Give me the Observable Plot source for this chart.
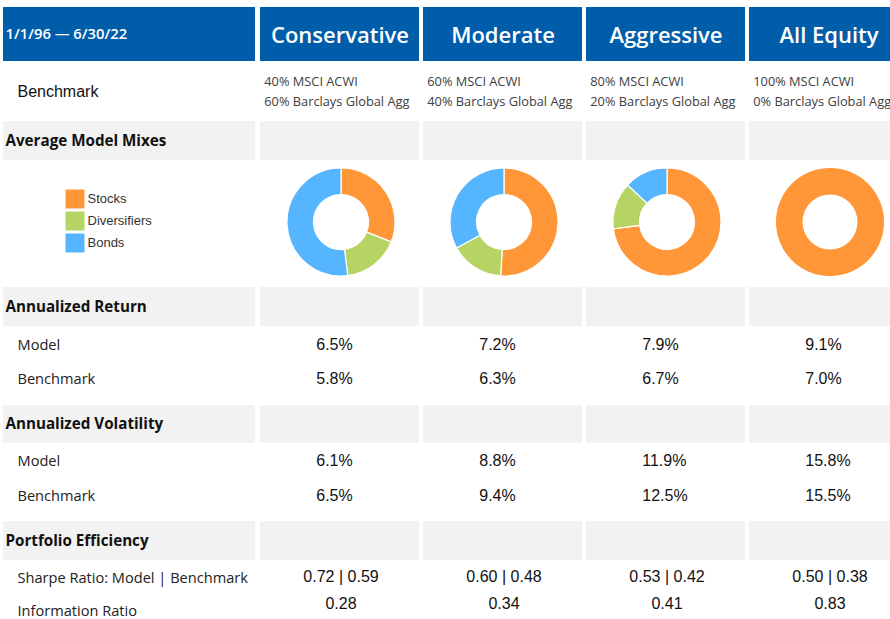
<!DOCTYPE html>
<html><head><meta charset="utf-8">
<script src="https://cdn.jsdelivr.net/npm/d3@7"></script>
<script src="https://cdn.jsdelivr.net/npm/@observablehq/plot@0.6"></script>
<style>body{margin:0;background:#fff;} #chart{width:890px;height:619px;overflow:hidden;}</style>
</head><body><div id="chart"></div>
<script>
// ---------- DATA ----------
const periodLabel = "1/1/96 \u2014 6/30/22";
const models = ["Conservative", "Moderate", "Aggressive", "All Equity"];
const benchmarkEquity = ["40% MSCI ACWI", "60% MSCI ACWI", "80% MSCI ACWI", "100% MSCI ACWI"];
const benchmarkBonds = ["60% Barclays Global Agg", "40% Barclays Global Agg", "20% Barclays Global Agg", "0% Barclays Global Agg"];
const sectionTitles = ["Average Model Mixes", "Annualized Return", "Annualized Volatility", "Portfolio Efficiency"];
const assetClasses = ["Stocks", "Diversifiers", "Bonds"];
const stocksMix = [31, 51, 73, 100];
const diversifiersMix = [17, 16, 14, 0];
const bondsMix = [52, 33, 13, 0];
const returnModel = [6.5, 7.2, 7.9, 9.1];
const returnBenchmark = [5.8, 6.3, 6.7, 7.0];
const volatilityModel = [6.1, 8.8, 11.9, 15.8];
const volatilityBenchmark = [6.5, 9.4, 12.5, 15.5];
const sharpeModel = [0.72, 0.60, 0.53, 0.50];
const sharpeBenchmark = [0.59, 0.48, 0.42, 0.38];
const informationRatio = [0.28, 0.34, 0.41, 0.83];

// ---------- LAYOUT & STYLE ----------
const L = {
  width: 890, height: 619,
  labelColInsetLeft: 3, labelColRight: 255,
  modelColsRange: [259, 909], colPadding: 0.0245,
  header: [7, 61], headerTextY: 34,
  benchLabelY: 91, benchLine1Y: 81, benchLine2Y: 101, benchDx: 4,
  sectionBands: [[121, 160], [287, 326], [405, 443], [521, 560]],
  donutY: 222, donutInner: 27.5, donutOuter: 54,
  legendY: [198.5, 220.5, 242.5], legendSquareX: 74.5, legendTextX: 87,
  sectionX: 5, rowLabelX: 17, pctLeft: 56
};
const colors = {Stocks: "#FF9637", Diversifiers: "#B5D463", Bonds: "#55B5FF"};
const headerBlue = "#005DAA", gray = "#F2F2F2";
const segoe = "'Open Sans', 'Noto Sans', sans-serif";
const arial = "'Liberation Sans', Arial, sans-serif";

// ---------- DERIVED TABLES ----------
const mixes = [stocksMix, diversifiersMix, bondsMix];
const sections = sectionTitles.map((t, i) => ({title: t, y1: L.sectionBands[i][0], y2: L.sectionBands[i][1]}));
const sectionCells = sections.flatMap(s => models.map(m => ({...s, model: m})));
const pct = v => v.toFixed(1) + "%";
const valueRows = [
  {label: "Model", vals: returnModel.map(pct), y: 344, ly: 344.5, align: "pct"},
  {label: "Benchmark", vals: returnBenchmark.map(pct), y: 378, ly: 378.5, align: "pct"},
  {label: "Model", vals: volatilityModel.map(pct), y: 460, ly: 461, align: "pct"},
  {label: "Benchmark", vals: volatilityBenchmark.map(pct), y: 495, ly: 496, align: "pct"},
  {label: "Sharpe Ratio: Model | Benchmark", vals: sharpeModel.map((v, i) => v.toFixed(2) + " | " + sharpeBenchmark[i].toFixed(2)), y: 576.5, ly: 577.5, align: "center"},
  {label: "Information Ratio", vals: informationRatio.map(v => v.toFixed(2)), y: 603, ly: 610.5, align: "center"}
];
const valueCells = valueRows.flatMap(r => models.map((m, i) => ({model: m, text: r.vals[i], y: r.y, align: r.align})));
const step = (L.modelColsRange[1] - L.modelColsRange[0]) / (models.length - L.colPadding);
const bw = step * (1 - L.colPadding);

function donuts(index, scales) {
  const g = d3.create("svg:g");
  const band = typeof scales.x.bandwidth === "function" ? scales.x.bandwidth() : (scales.x.bandwidth ?? bw);
  const pie = d3.pie().sort(null).value(d => d.value);
  const arc = d3.arc().innerRadius(L.donutInner).outerRadius(L.donutOuter);
  models.forEach((m, i) => {
    const slices = assetClasses.map((a, j) => ({cls: a, value: mixes[j][i]})).filter(d => d.value > 0);
    g.append("g")
      .attr("transform", `translate(${scales.x(m) + band / 2 + 1.5},${scales.y(L.donutY)})`)
      .selectAll("path").data(pie(slices)).join("path")
      .attr("d", arc)
      .attr("fill", d => colors[d.data.cls])
      .attr("stroke", "#fff").attr("stroke-width", slices.length > 1 ? 1.2 : 0);
  });
  return g.node();
}

const chart = Plot.plot({
  width: L.width, height: L.height, margin: 0,
  x: {type: "band", domain: models, range: L.modelColsRange, paddingInner: L.colPadding, paddingOuter: 0, align: 0.5, axis: null},
  y: {type: "linear", domain: [0, L.height], range: [0, L.height], axis: null},
  style: {background: "#fff", overflow: "hidden"},
  marks: [
    // header row
    Plot.rect([periodLabel], {y1: L.header[0], y2: L.header[1], fill: headerBlue, insetLeft: L.labelColInsetLeft, insetRight: L.width - L.labelColRight}),
    Plot.barY(models, {x: d => d, y1: L.header[0], y2: L.header[1], fill: headerBlue, insetLeft: 0, insetRight: 0}),
    Plot.text([periodLabel], {y: L.headerTextY, text: d => d, frameAnchor: "left", dx: L.sectionX, textAnchor: "start", fill: "#fff", fontSize: 14.8, fontWeight: 600, fontFamily: segoe}),
    Plot.text(models, {x: d => d, y: L.headerTextY + 1, text: d => d, fill: "#fff", fontSize: 22, fontWeight: 600, fontFamily: segoe}),
    // benchmark row
    Plot.text(["Benchmark"], {y: L.benchLabelY, text: d => d, frameAnchor: "left", dx: L.rowLabelX, textAnchor: "start", fill: "#111", fontSize: 16, fontFamily: arial}),
    Plot.text(models, {x: d => d, y: L.benchLine1Y, text: benchmarkEquity, textAnchor: "start", dx: -bw / 2 + L.benchDx, fill: "#404040", fontSize: 12.8, fontFamily: segoe}),
    Plot.text(models, {x: d => d, y: L.benchLine2Y, text: benchmarkBonds, textAnchor: "start", dx: -bw / 2 + L.benchDx, fill: "#404040", fontSize: 12.8, fontFamily: segoe}),
    // section bands
    Plot.rect(sections, {y1: "y1", y2: "y2", fill: gray, insetLeft: L.labelColInsetLeft, insetRight: L.width - L.labelColRight}),
    Plot.barY(sectionCells, {x: "model", y1: "y1", y2: "y2", fill: gray}),
    Plot.text(sections, {y: d => (d.y1 + d.y2) / 2, text: "title", frameAnchor: "left", dx: L.sectionX, textAnchor: "start", fill: "#111", fontSize: 15.2, fontWeight: 700, fontFamily: segoe}),
    // legend
    Plot.dot(assetClasses, {y: (d, i) => L.legendY[i], frameAnchor: "left", dx: L.legendSquareX, symbol: "square", r: 10.7, fill: d => colors[d], stroke: null}),
    Plot.text(assetClasses, {y: (d, i) => L.legendY[i], text: d => d, frameAnchor: "left", dx: L.legendTextX, textAnchor: "start", fill: "#333", fontSize: 13, fontFamily: arial}),
    // donuts
    donuts,
    // row labels
    Plot.text(valueRows, {y: "ly", text: "label", frameAnchor: "left", dx: L.rowLabelX, textAnchor: "start", fill: "#222", fontSize: 14.6, fontFamily: segoe}),
    // values
    Plot.text(valueCells.filter(d => d.align === "pct"), {x: "model", y: "y", text: "text", textAnchor: "start", dx: L.pctLeft - bw / 2, fill: "#111", fontSize: 16, fontFamily: arial}),
    Plot.text(valueCells.filter(d => d.align === "center"), {x: "model", y: "y", text: "text", dx: 1, fill: "#111", fontSize: 16, fontFamily: arial})
  ]
});
document.getElementById("chart").appendChild(chart);
</script>
</body></html>
